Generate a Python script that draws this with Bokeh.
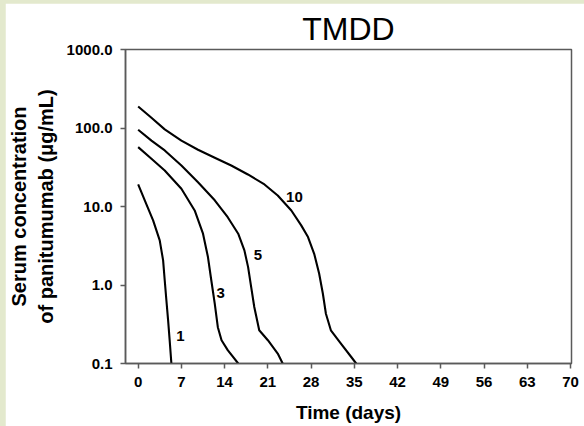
from bokeh.plotting import figure
from bokeh.layouts import column
from bokeh.models import Range1d, FixedTicker, CustomJSTickFormatter, ColumnDataSource
from bokeh.core.properties import value
from bokeh.embed import file_html
from bokeh.resources import INLINE

# Serum concentration (ug/mL) vs time (days) for doses 1, 3, 5, 10 mg/kg
t_dose1 = [0, 1.07, 2.42, 3.49, 4.04, 4.30, 4.57, 4.85, 5.1, 5.38]
c_dose1 = [19.1, 12.0, 6.65, 3.7, 2.06, 1.15, 0.64, 0.355, 0.198, 0.1]

t_dose3 = [0, 2.15, 4.3, 7.0, 9.15, 10.5, 11.3, 11.84, 12.4, 12.9, 13.5, 14.5, 16.2]
c_dose3 = [57, 40.6, 28.8, 16.8, 8.9, 4.5, 2.27, 1.15, 0.58, 0.29, 0.198, 0.148, 0.1]

t_dose5 = [0, 2.15, 4.3, 7.0, 9.69, 12.4, 14.5, 16.2, 17.2, 17.8, 18.3, 18.8, 19.6, 21.0, 22.6, 23.4]
c_dose5 = [95, 69, 51.8, 33.3, 20.4, 12.0, 7.3, 4.5, 2.76, 1.69, 0.94, 0.525, 0.265, 0.198, 0.134, 0.1]

t_dose10 = [0, 2.15, 4.3, 7.0, 9.69, 12.4, 15.07, 17.77, 20.45, 22.6, 24.8, 26.4, 27.5, 28.5,
            29.3, 29.9, 30.4, 31.2, 32.8, 34.5, 35.3]
c_dose10 = [188, 135, 96, 69, 52.8, 41.8, 33.3, 25.6, 19.1, 13.8, 8.9, 5.75, 4.08, 2.5,
            1.40, 0.78, 0.43, 0.265, 0.18, 0.121, 0.1]

dose_labels = ["1", "3", "5", "10"]
label_t = [6.83, 13.35, 19.4, 25.3]
label_c = [0.224, 0.78, 2.39, 13.2]

x_ticks = [0, 7, 14, 21, 28, 35, 42, 49, 56, 63, 70]
y_ticks = [0.1, 1, 10, 100, 1000]

p = figure(width=579, height=423,
           x_range=Range1d(-2.05, 70.16), y_range=Range1d(0.1, 1000),
           y_axis_type="log", output_backend="svg", toolbar_location=None,
           min_border_left=119, min_border_right=13, min_border_top=46, min_border_bottom=63,
           title="TMDD")
p.margin = (3, 0, 0, 5)
p.background_fill_color = "white"
p.border_fill_color = "white"

p.title.text_font = "Liberation Sans"
p.title.text_font_style = "normal"
p.title.text_font_size = "32px"
p.title.align = "center"
p.title.text_color = "black"
p.title.standoff = 5
p.title.offset = 9

axis_col = "#5a5a5a"
p.outline_line_color = axis_col
p.outline_line_width = 1.5
p.grid.visible = False

for ax in (p.xaxis[0], p.yaxis[0]):
    ax.axis_line_color = axis_col
    ax.axis_line_width = 1.5
    ax.major_tick_line_color = axis_col
    ax.major_tick_line_width = 1.5
    ax.major_tick_in = 0
    ax.major_tick_out = 5
    ax.minor_tick_line_color = None
    ax.major_label_text_font = "Liberation Sans"
    ax.major_label_text_font_style = "bold"
    ax.major_label_text_font_size = "15px"
    ax.major_label_text_color = "black"
    ax.axis_label_text_font = "Liberation Sans"
    ax.axis_label_text_font_style = "bold"
    ax.axis_label_text_color = "black"

p.xaxis.ticker = FixedTicker(ticks=x_ticks)
p.yaxis.ticker = FixedTicker(ticks=y_ticks, minor_ticks=[])
p.yaxis.formatter = CustomJSTickFormatter(code="return tick.toFixed(1);")
p.xaxis.major_label_standoff = 8
p.yaxis.major_label_standoff = 8
p.xaxis.axis_label = "Time (days)"
p.xaxis.axis_label_text_font_size = "19px"
p.xaxis.axis_label_standoff = 12
p.yaxis.axis_label = "Serum concentration\nof panitumumab (\u03bcg/mL)"
p.yaxis.axis_label_text_font_size = "20px"
p.yaxis.axis_label_standoff = 7

for tt, cc in ((t_dose1, c_dose1), (t_dose3, c_dose3), (t_dose5, c_dose5), (t_dose10, c_dose10)):
    p.line(tt, cc, line_color="black", line_width=2.1, line_join="round")

src = ColumnDataSource(dict(x=label_t, y=label_c, text=dose_labels))
p.text(x="x", y="y", text="text", source=src, text_align="center", text_baseline="middle",
       text_font=value("Liberation Sans"), text_font_style="bold", text_font_size="15px",
       text_color="black")

layout = column(p, width=584, height=426, styles={"background-color": "#e3e9cd"})

open("out.html", "w").write(file_html(layout, INLINE))
